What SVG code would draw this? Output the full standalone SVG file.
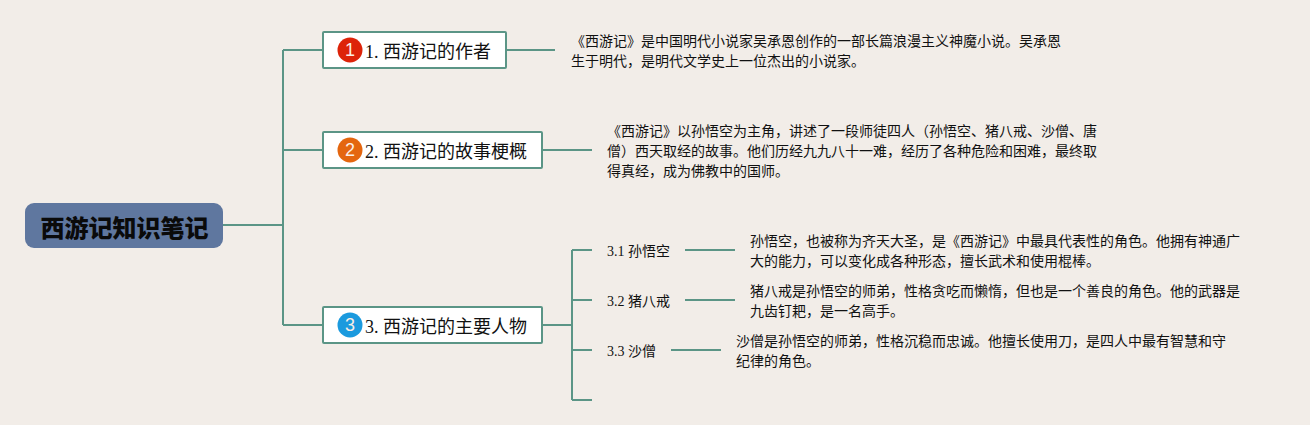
<svg xmlns="http://www.w3.org/2000/svg" width="1310" height="425" viewBox="0 0 1310 425">
<style>
.cjk{font-family:"Liberation Serif","Noto Sans CJK SC",serif;fill:#111}
.c{fill:none;stroke:#5b9586;stroke-width:2}
.box{fill:#fff;stroke:#5b9586;stroke-width:2}
.t{font-size:18px}
.n{font-size:14px}
.d{font-size:14px}
.b{font-family:"Liberation Sans",sans-serif;font-size:18px;fill:#fbeee6;text-anchor:middle}
</style>
<rect width="1310" height="425" fill="#f2ede8"/>
<g id="connectors">
<path class="c" d="M223 225H283M283 50V325M283 50H323M283 150H323M283 325H323"/>
<path class="c" d="M506 50H555M542 150H592"/>
<path class="c" d="M542 325H572M572 250V400M572 250H592M572 300H592M572 350H592M572 400H592"/>
<path class="c" d="M685 250H735M685 300H735M671 350H721"/>
</g>
<g id="root"><rect x="25" y="203" width="198" height="45" rx="9" fill="#5f779f"/>
<text x="124.500" y="237" text-anchor="middle" font-family="Noto Sans CJK SC,sans-serif" font-weight="900" font-size="24" fill="#0a0a0a">西游记知识笔记</text></g>
<g id="n1"><rect class="box" x="323" y="32" width="183" height="36" rx="1"/><circle cx="350" cy="50" r="12.500" fill="#dd2309"/><text class="b" x="350" y="55.500">1</text><text class="cjk t" x="365" y="58">1. 西游记的作者</text></g>
<g id="n2"><rect class="box" x="323" y="132" width="219" height="36" rx="1"/><circle cx="350" cy="150" r="12.500" fill="#e4660f"/><text class="b" x="350" y="156">2</text><text class="cjk t" x="365" y="158">2. 西游记的故事梗概</text></g>
<g id="n3"><rect class="box" x="323" y="307" width="219" height="36" rx="1"/><circle cx="350" cy="325" r="12.500" fill="#1b9ade"/><text class="b" x="350" y="331">3</text><text class="cjk t" x="365" y="333">3. 西游记的主要人物</text></g>
<g id="n31"><text class="cjk n" x="607" y="256">3.1 孙悟空</text></g>
<g id="n32"><text class="cjk n" x="607" y="306">3.2 猪八戒</text></g>
<g id="n33"><text class="cjk n" x="607" y="356">3.3 沙僧</text></g>
<g id="d1"><text class="cjk d" x="571" y="46">《西游记》是中国明代小说家吴承恩创作的一部长篇浪漫主义神魔小说。吴承恩</text><text class="cjk d" x="571" y="66">生于明代，是明代文学史上一位杰出的小说家。</text></g>
<g id="d2"><text class="cjk d" x="607" y="136">《西游记》以孙悟空为主角，讲述了一段师徒四人（孙悟空、猪八戒、沙僧、唐</text><text class="cjk d" x="607" y="156">僧）西天取经的故事。他们历经九九八十一难，经历了各种危险和困难，最终取</text><text class="cjk d" x="607" y="176">得真经，成为佛教中的国师。</text></g>
<g id="d31"><text class="cjk d" x="750" y="246">孙悟空，也被称为齐天大圣，是《西游记》中最具代表性的角色。他拥有神通广</text><text class="cjk d" x="750" y="266">大的能力，可以变化成各种形态，擅长武术和使用棍棒。</text></g>
<g id="d32"><text class="cjk d" x="750" y="296">猪八戒是孙悟空的师弟，性格贪吃而懒惰，但也是一个善良的角色。他的武器是</text><text class="cjk d" x="750" y="316">九齿钉耙，是一名高手。</text></g>
<g id="d33"><text class="cjk d" x="736" y="346">沙僧是孙悟空的师弟，性格沉稳而忠诚。他擅长使用刀，是四人中最有智慧和守</text><text class="cjk d" x="736" y="366">纪律的角色。</text></g>
</svg>
